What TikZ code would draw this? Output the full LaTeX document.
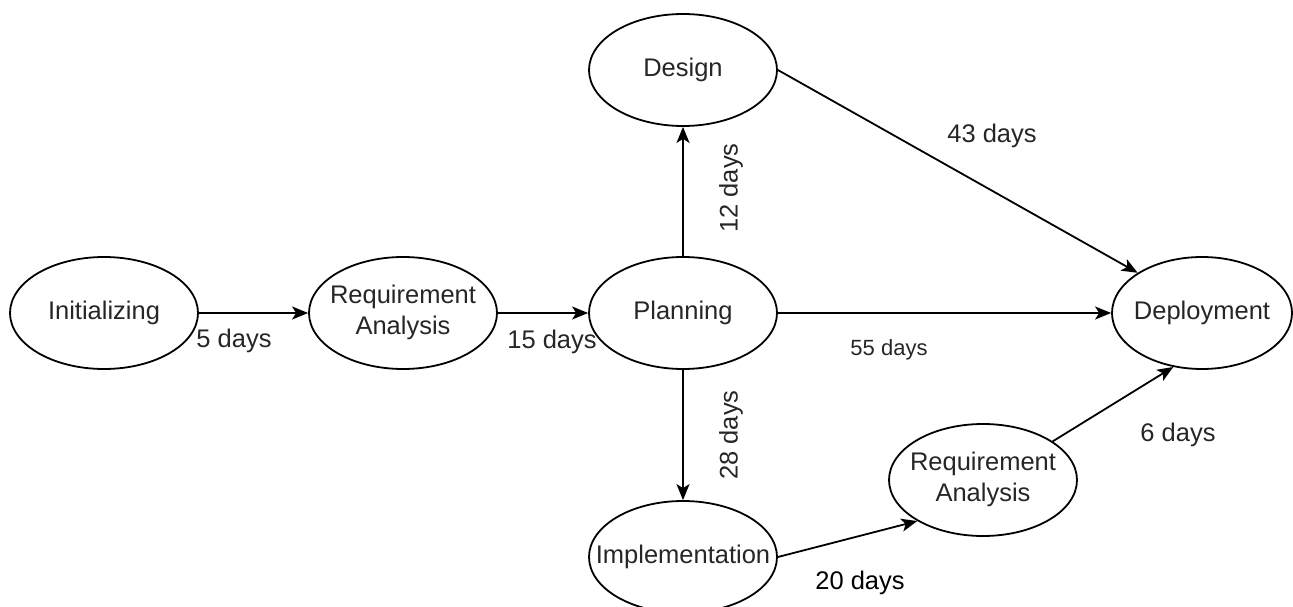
\documentclass[tikz,border=0pt]{standalone}
\usepackage{fontspec}
\setmainfont{Liberation Sans}
\usetikzlibrary{shapes.geometric,arrows.meta}

% centred label whose width does not widen the ellipse around it
\newcommand{\stagetext}[1]{\makebox[0pt]{\begin{tabular}{@{}c@{}}#1\end{tabular}}}

\tikzset{
  stage/.style={draw=black, line width=1.8pt, ellipse, minimum width=188pt,
    minimum height=112pt, inner sep=0pt, text=black!85,
    font=\fontsize{25.5}{31}\selectfont},
  flow/.style={draw=black, line width=1.8pt,
    -{Stealth[length=16pt, width=13pt, inset=4pt]}},
  dur/.style={text=black!85, inner sep=0pt, font=\fontsize{25.5}{31}\selectfont},
  durs/.style={dur, font=\fontsize{22}{26}\selectfont},
}

\begin{document}
\begin{tikzpicture}[x=1pt, y=-1pt]
  \useasboundingbox (0,0) rectangle (1293,607);

  % stages
  \node[stage] (init) at (104,313) {\stagetext{Initializing}};
  \node[stage] (req1) at (403,313) {\stagetext{Requirement\\Analysis}};
  \node[stage] (plan) at (683,313) {\stagetext{Planning}};
  \node[stage] (design) at (683,70) {\stagetext{Design}};
  \node[stage] (impl) at (683,557) {\stagetext{Implementation}};
  \node[stage] (req2) at (983,480) {\stagetext{Requirement\\Analysis}};
  \node[stage, minimum width=180pt] (deploy) at (1202,313) {\stagetext{Deployment}};

  % connections
  \draw[flow] (init.east) -- (req1.west);
  \draw[flow] (req1.east) -- (plan.west);
  \draw[flow] (plan.north) -- (design.south);
  \draw[flow] (plan.south) -- (impl.north);
  \draw[flow] (plan.east) -- (deploy.west);
  \draw[flow] (design.east) -- (deploy.148);
  \draw[flow] (impl.east) -- (req2.212);
  \draw[flow] (req2.29) -- (deploy.242);

  % durations
  \node[dur] (d5) at (234,341) {5 days};
  \node[dur] (d15) at (552,342) {15 days};
  \node[dur, rotate=90] (d12) at (731,188) {12 days};
  \node[dur, rotate=90] (d28) at (731,435) {28 days};
  \node[durs] (d55) at (889,350) {55 days};
  \node[dur] (d43) at (992,136) {43 days};
  \node[dur] (d6) at (1178,435) {6 days};
  \node[dur, text=black] (d20) at (860,583) {20 days};
\end{tikzpicture}
\end{document}
